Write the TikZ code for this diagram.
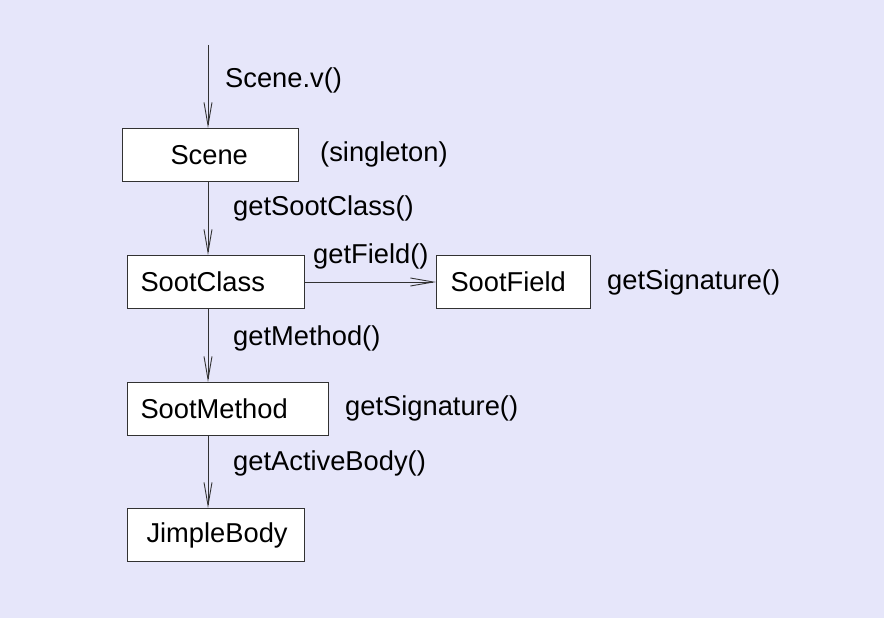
\documentclass[tikz,border=0pt]{standalone}
\usepackage{fontspec}
\setmainfont{Liberation Sans}
\usetikzlibrary{arrows.meta}
\definecolor{bg}{RGB}{230,230,250}
\definecolor{ln}{RGB}{50,50,50}
\begin{document}
\begin{tikzpicture}[x=1pt,y=-1pt,
  every node/.style={font=\fontsize{27.3}{32}\selectfont, inner sep=0pt},
  cls/.style={draw=ln, line width=1pt, fill=white, minimum height=53pt, anchor=north west, align=left},
  lbl/.style={anchor=base west},
  conn/.style={draw=ln, line width=0.9pt, -{Straight Barb[length=23pt,width=8pt,line width=0.9pt]}}]
\fill[bg] (0,0) rectangle (884,618);
\useasboundingbox (0,0) rectangle (884,618);
\coordinate (top) at (208,45);
\node[cls, inner xsep=48pt, text width=80pt] (scene) at (122,128) {Scene};
\node[cls, inner xsep=13pt, text width=151pt] (sootclass) at (127,255) {SootClass};
\node[cls, inner xsep=14pt, text width=126pt] (sootfield) at (436,255) {SootField};
\node[cls, inner xsep=13pt, text width=175pt] (sootmethod) at (127,382) {SootMethod};
\node[cls, inner xsep=19pt, text width=139pt] (jimplebody) at (127,508) {JimpleBody};
\draw[conn] (top) -- (top |- scene.north);
\draw[conn] (top |- scene.south) -- (top |- sootclass.north);
\draw[conn] (top |- sootclass.south) -- (top |- sootmethod.north);
\draw[conn] (top |- sootmethod.south) -- (top |- jimplebody.north);
\draw[conn] (sootclass.east) -- (sootfield.west);
\node[lbl] (l1) at (225,88) {Scene.v()};
\node[lbl] (l2) at (320,161) {(singleton)};
\node[lbl] (l3) at (233,215) {getSootClass()};
\node[lbl] (l4) at (313,263) {getField()};
\node[lbl] (l5) at (607,289) {getSignature()};
\node[lbl] (l6) at (233,345) {getMethod()};
\node[lbl] (l7) at (345,415) {getSignature()};
\node[lbl] (l8) at (233,470) {getActiveBody()};
\end{tikzpicture}
\end{document}
